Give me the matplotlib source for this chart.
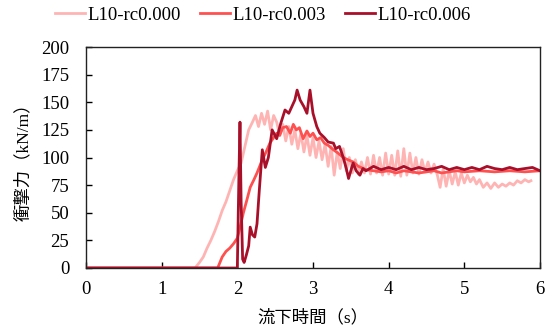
import matplotlib
matplotlib.use("Agg")
import matplotlib.pyplot as plt

plt.rcParams['font.family'] = ['Liberation Serif', 'Noto Sans CJK JP', 'DejaVu Sans']

labels = ["L10-rc0.000", "L10-rc0.003", "L10-rc0.006"]
colors = ["#ffb4b4", "#ff5050", "#a8102a"]

t0 = [0, 1.44, 1.5, 1.55, 1.6, 1.65, 1.7, 1.75, 1.8, 1.85, 1.9, 1.95, 2.0, 2.05, 2.1, 2.15,
      2.2, 2.24, 2.28, 2.32, 2.36, 2.4, 2.44, 2.48, 2.52, 2.56, 2.6, 2.64, 2.68, 2.72, 2.76,
      2.8, 2.84, 2.88, 2.92, 2.96, 3.0, 3.04, 3.08, 3.12, 3.16, 3.2, 3.24, 3.28, 3.32, 3.36,
      3.4, 3.44, 3.48, 3.52, 3.56, 3.6, 3.64, 3.68, 3.72, 3.76, 3.8, 3.84, 3.88, 3.92, 3.96,
      4.0, 4.04, 4.08, 4.12, 4.16, 4.2, 4.24, 4.28, 4.32, 4.36, 4.4, 4.44, 4.48, 4.52, 4.56,
      4.6, 4.64, 4.68, 4.72, 4.76, 4.8, 4.84, 4.88, 4.92, 4.96, 5.0, 5.04, 5.08, 5.12, 5.16,
      5.2, 5.25, 5.3, 5.35, 5.4, 5.45, 5.5, 5.55, 5.6, 5.65, 5.7, 5.75, 5.8, 5.85, 5.88]
v0 = [0, 0, 5, 10, 18, 25, 33, 42, 52, 60, 70, 80, 88, 95, 110, 125,
      132, 138, 128, 140, 130, 142, 125, 138, 132, 120, 130, 115, 128, 112, 125,
      108, 122, 105, 120, 102, 118, 100, 115, 98, 112, 92, 110, 84, 105, 90,
      108, 88, 100, 86, 98, 85, 96, 86, 100, 85, 102, 86, 100, 84, 104,
      85, 102, 84, 106, 83, 108, 84, 104, 86, 100, 85, 98, 87, 96, 86,
      94, 85, 73, 90, 74, 88, 76, 87, 75, 86, 77, 84, 78, 82, 76,
      80, 73, 77, 72, 77, 73, 76, 74, 77, 75, 79, 77, 80, 78, 79]

t1 = [0, 1.74, 1.8, 1.85, 1.9, 1.95, 2.0, 2.04, 2.08, 2.12, 2.17, 2.22, 2.26, 2.33, 2.38,
      2.43, 2.48, 2.52, 2.56, 2.6, 2.65, 2.7, 2.74, 2.78, 2.82, 2.87, 2.92, 2.96, 3.0, 3.05,
      3.1, 3.15, 3.2, 3.27, 3.33, 3.4, 3.46, 3.53, 3.6, 3.7, 3.8, 3.9, 4.0, 4.1, 4.2, 4.3,
      4.4, 4.5, 4.6, 4.7, 4.8, 4.9, 5.0, 5.2, 5.4, 5.6, 5.8, 6.0]
v1 = [0, 0, 10, 15, 18, 22, 27, 38, 50, 60, 73, 80, 86, 98, 105,
      113, 118, 122, 120, 127, 128, 122, 130, 125, 127, 117, 124, 119, 122, 116,
      118, 113, 111, 107, 104, 100, 98, 96, 92, 89, 88, 87, 88, 86, 88, 87,
      86, 87, 88, 86, 87, 88, 87, 88, 87, 88, 87, 88]

t2 = [0, 2.0, 2.02, 2.035, 2.05, 2.07, 2.09, 2.12, 2.15, 2.17, 2.2, 2.23, 2.26, 2.29, 2.33,
      2.37, 2.41, 2.46, 2.52, 2.57, 2.63, 2.68, 2.72, 2.76, 2.79, 2.83, 2.88, 2.92, 2.96,
      3.0, 3.05, 3.09, 3.15, 3.2, 3.27, 3.3, 3.35, 3.4, 3.44, 3.47, 3.5, 3.53, 3.57, 3.62,
      3.66, 3.7, 3.75, 3.8, 3.9, 4.0, 4.1, 4.2, 4.3, 4.4, 4.5, 4.6, 4.7, 4.8, 4.9, 5.0,
      5.1, 5.2, 5.3, 5.4, 5.5, 5.6, 5.7, 5.8, 5.9, 6.0]
v2 = [0, 0, 80, 132, 60, 8, 5, 12, 20, 37, 30, 28, 40, 70, 107,
      91, 100, 125, 117, 130, 143, 140, 146, 152, 161, 152, 146, 140, 161,
      140, 128, 122, 118, 114, 113, 108, 110, 100, 90, 81, 88, 95, 88, 84,
      90, 88, 90, 92, 89, 91, 89, 92, 89, 91, 89, 90, 92, 89, 91, 89,
      91, 89, 92, 90, 89, 91, 89, 90, 91, 88]

xticks = [0, 1, 2, 3, 4, 5, 6]
yticks = [0, 25, 50, 75, 100, 125, 150, 175, 200]

fig = plt.figure(figsize=(5.54, 3.34), dpi=100)
ax = fig.add_axes([86/554, 66/334, 454/554, 221/334])

for t, v, c, l in zip([t0, t1, t2], [v0, v1, v2], colors, labels):
    ax.plot(t, v, color=c, lw=2.0, label=l)

ax.set_xlim(0, 6)
ax.set_ylim(0, 200)
ax.set_xticks(xticks)
ax.set_yticks(yticks)
ax.tick_params(direction='in', length=4, width=1, labelsize=13.5, top=False, right=False)
ax.tick_params(axis='x', pad=9)
ax.tick_params(axis='y', pad=12)
for s in ax.spines.values():
    s.set_linewidth(1.0)
    s.set_color('#222222')

ax.set_xlabel("流下時間（s）", fontsize=12.5)
ax.set_ylabel("衝撃力（kN/m）", fontsize=12.5)
ax.xaxis.set_label_coords(0.5, -42/221)
ax.yaxis.set_label_coords(-54/454, 0.5)

fig.legend(loc='center', bbox_to_anchor=(263/554, 0.955), ncol=3, frameon=False,
           fontsize=13.5, handlelength=1.6, columnspacing=1.0, handletextpad=0.15)

fig.savefig("out.png", dpi=100)
